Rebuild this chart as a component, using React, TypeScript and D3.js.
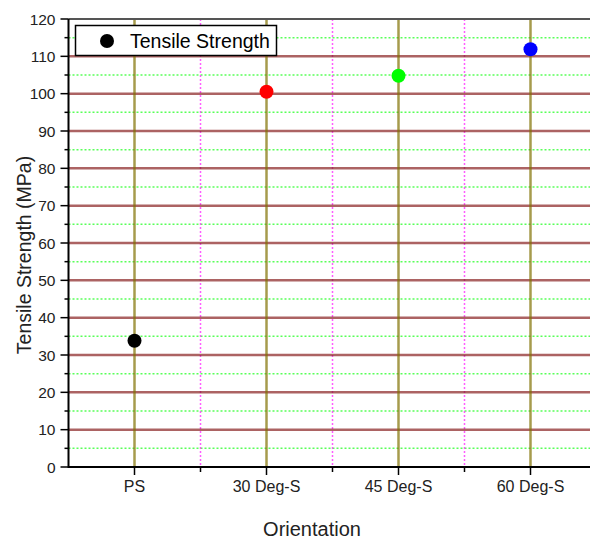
import React from "react";
import * as d3 from "d3";

// data
const categories = ["PS", "30 Deg-S", "45 Deg-S", "60 Deg-S"];
const strength = [33.8, 100.5, 104.8, 111.9];
const pointColors = ["#000000", "#ff0000", "#00ff00", "#0000ff"];
const yMajorTicks = [0, 10, 20, 30, 40, 50, 60, 70, 80, 90, 100, 110, 120];
const yMinorTicks = [5, 15, 25, 35, 45, 55, 65, 75, 85, 95, 105, 115];
const xMinorTicks = [1.5, 2.5, 3.5];

const W = 590;
const H = 540;
const left = 68.5;
const top = 19;
const bottom = 467;
const step = 132;

const font = "'Liberation Sans', Arial, sans-serif";

export default function App() {
  const x = d3
    .scaleLinear()
    .domain([0.5, categories.length + 0.5])
    .range([left, left + step * categories.length]);
  const y = d3.scaleLinear().domain([0, 120]).range([bottom, top]);
  const right = x(categories.length + 0.5);

  return (
    <svg
      width={W}
      height={H}
      style={{ position: "absolute", left: 0, top: 0, background: "#fff" }}
    >
      {/* minor grid */}
      {yMinorTicks.map((t) => (
        <line
          key={"gy" + t}
          x1={left}
          x2={right}
          y1={y(t)}
          y2={y(t)}
          stroke="#22ff22"
          strokeOpacity={0.75}
          strokeWidth={1.5}
          strokeDasharray="2,2"
        />
      ))}
      {xMinorTicks.map((t) => (
        <line
          key={"gx" + t}
          x1={x(t)}
          x2={x(t)}
          y1={top}
          y2={bottom}
          stroke="#ff33ff"
          strokeOpacity={0.8}
          strokeWidth={1.5}
          strokeDasharray="2,2"
        />
      ))}
      {/* major grid */}
      {yMajorTicks
        .filter((t) => t > 0 && t < 120)
        .map((t) => (
          <line
            key={"my" + t}
            x1={left}
            x2={right}
            y1={y(t)}
            y2={y(t)}
            stroke="#801010"
            strokeOpacity={0.65}
            strokeWidth={2.5}
          />
        ))}
      {categories.map((c, i) => (
        <line
          key={"mx" + c}
          x1={x(i + 1)}
          x2={x(i + 1)}
          y1={top}
          y2={bottom}
          stroke="#807000"
          strokeOpacity={0.7}
          strokeWidth={2.5}
        />
      ))}

      {/* axes */}
      <line x1={left} x2={right} y1={top} y2={top} stroke="#555" strokeWidth={2} />
      <line x1={left} x2={right} y1={bottom} y2={bottom} stroke="#000" strokeWidth={2} />
      <line x1={left} x2={left} y1={top} y2={bottom + 1} stroke="#000" strokeWidth={2} />

      {yMajorTicks.map((t) => (
        <g key={"yt" + t}>
          <line x1={left - 8} x2={left} y1={y(t)} y2={y(t)} stroke="#000" strokeWidth={1.5} />
          <text
            x={left - 13}
            y={y(t)}
            dy="0.36em"
            textAnchor="end"
            fontFamily={font}
            fontSize={15.5}
            fill="#222"
          >
            {t}
          </text>
        </g>
      ))}
      {yMinorTicks.map((t) => (
        <line key={"ym" + t} x1={left - 4} x2={left} y1={y(t)} y2={y(t)} stroke="#000" strokeWidth={1.5} />
      ))}
      {categories.map((c, i) => (
        <g key={"xt" + c}>
          <line x1={x(i + 1)} x2={x(i + 1)} y1={bottom} y2={bottom + 8} stroke="#000" strokeWidth={1.5} />
          <text
            x={x(i + 1)}
            y={bottom + 25}
            textAnchor="middle"
            fontFamily={font}
            fontSize={16}
            fill="#222"
          >
            {c}
          </text>
        </g>
      ))}
      {xMinorTicks.map((t) => (
        <line key={"xm" + t} x1={x(t)} x2={x(t)} y1={bottom} y2={bottom + 5} stroke="#000" strokeWidth={1.5} />
      ))}

      {/* axis titles */}
      <text
        transform={`translate(31,${(top + bottom) / 2 + 12}) rotate(-90)`}
        textAnchor="middle"
        fontFamily={font}
        fontSize={19.5}
        fill="#222"
      >
        Tensile Strength (MPa)
      </text>
      <text
        x={312}
        y={536}
        textAnchor="middle"
        fontFamily={font}
        fontSize={20}
        fill="#222"
      >
        Orientation
      </text>

      {/* points */}
      {strength.map((v, i) => (
        <circle key={"p" + i} cx={x(i + 1)} cy={y(v)} r={7} fill={pointColors[i]} />
      ))}

      {/* legend */}
      <rect x={75.5} y={25.5} width={201} height={30} fill="#fff" stroke="#000" strokeWidth={1.5} />
      <circle cx={107} cy={41} r={7} fill="#000" />
      <text x={130} y={47.5} fontFamily={font} fontSize={19.5} fill="#000">
        Tensile Strength
      </text>
    </svg>
  );
}
